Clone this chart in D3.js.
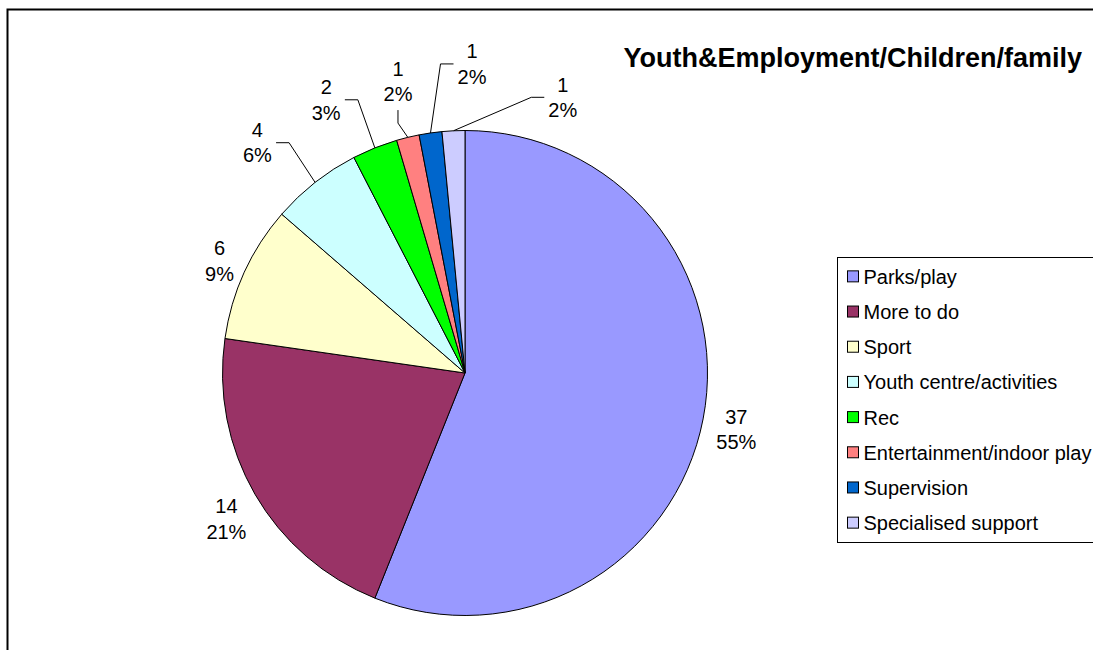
<!DOCTYPE html>
<html>
<head>
<meta charset="utf-8">
<script src="https://cdn.jsdelivr.net/npm/d3@7"></script>
<style>
  body { margin: 0; background: #fff; }
  svg { display: block; font-family: "Liberation Sans", Arial, sans-serif; }
</style>
</head>
<body>
<div id="chart"></div>
<script>
// data
const categories = ['Parks/play', 'More to do', 'Sport', 'Youth centre/activities',
  'Rec', 'Entertainment/indoor play', 'Supervision', 'Specialised support'];
const values = [37, 14, 6, 4, 2, 1, 1, 1];
const pctLabels = ['55%', '21%', '9%', '6%', '3%', '2%', '2%', '2%'];
const title = 'Youth&Employment/Children/family';

// styling / layout
const colors = ['#9999FF', '#993366', '#FFFFCC', '#CCFFFF', '#00FF00', '#FF8080', '#0066CC', '#CCCCFF'];
// label placement relative to the slice: angle shift (deg) and radius factor
const labelShift = [2.2, -2.6, -1.3, -4.7, -5.7, 0.4, 9.5, 22.7];
const labelRad = [1.149, 1.168, 1.102, 1.258, 1.239, 1.207, 1.247, 1.180];
const hasLeader = [false, false, false, true, true, true, true, true];

const W = 1093, H = 650;
const cx = 465, cy = 373, R = 242.5;

const svg = d3.select('#chart').append('svg')
  .attr('width', W)
  .attr('height', H);

// outer chart frame (runs off the right and bottom)
svg.append('rect')
  .attr('x', 7.5).attr('y', 9.5)
  .attr('width', W + 20).attr('height', H + 20)
  .style('fill', 'none')
  .style('stroke', '#000')
  .style('stroke-width', 2);

svg.append('text')
  .attr('x', 1082).attr('y', 67)
  .attr('text-anchor', 'end')
  .style('font-size', '27px')
  .style('font-weight', 'bold')
  .text(title);

const pie = d3.pie().sort(null).value(d => d);
const arcs = pie(values);
const arcGen = d3.arc().innerRadius(0).outerRadius(R);

const g = svg.append('g').attr('transform', `translate(${cx},${cy})`);

g.selectAll('path.slice')
  .data(arcs)
  .enter()
  .append('path')
  .attr('class', 'slice')
  .attr('d', arcGen)
  .style('fill', (d, i) => colors[i])
  .style('stroke', '#000')
  .style('stroke-width', 1)
  .style('stroke-linejoin', 'round');

// polar helper, angle clockwise from 12 o'clock
function polar(a, r) { return [r * Math.sin(a), -r * Math.cos(a)]; }

arcs.forEach(function(d, i) {
  const mid = (d.startAngle + d.endAngle) / 2;
  const p = polar(mid + labelShift[i] * Math.PI / 180, R * labelRad[i]);

  const t = g.append('text')
    .attr('text-anchor', 'middle')
    .style('font-size', '20px')
    .style('fill', '#000');
  t.append('tspan').attr('x', p[0]).attr('y', p[1] - 12.5).text(values[i]);
  t.append('tspan').attr('x', p[0]).attr('y', p[1] + 13).text(pctLabels[i]);

  if (!hasLeader[i]) return;
  const bb = t.node().getBBox();
  const edge = polar(mid, R);
  const midY = bb.y + bb.height / 2;
  let pts;
  if (edge[0] < bb.x) {
    pts = [edge, [bb.x - 17, midY], [bb.x - 4, midY]];
  } else if (edge[0] > bb.x + bb.width) {
    pts = [edge, [bb.x + bb.width + 17, midY], [bb.x + bb.width + 4, midY]];
  } else {
    pts = [edge, [p[0], bb.y + bb.height + 18], [p[0], bb.y + bb.height + 5]];
  }
  g.append('path')
    .attr('d', d3.line()(pts))
    .style('fill', 'none')
    .style('stroke', '#000')
    .style('stroke-width', 1);
});

// legend
const lg = svg.append('g').attr('transform', 'translate(837.5,257.5)');
lg.append('rect')
  .attr('width', 300).attr('height', 285)
  .style('fill', '#fff')
  .style('stroke', '#000')
  .style('stroke-width', 1);

const rowY = d3.scaleBand().domain(categories).range([0, 285]).paddingOuter(0.05);

const item = lg.selectAll('g.item')
  .data(categories)
  .enter()
  .append('g')
  .attr('class', 'item')
  .attr('transform', d => `translate(0,${rowY(d) + rowY.bandwidth() / 2})`);

item.append('rect')
  .attr('x', 10).attr('y', -6)
  .attr('width', 11).attr('height', 11)
  .style('fill', (d, i) => colors[i])
  .style('stroke', '#000')
  .style('stroke-width', 1);

item.append('text')
  .attr('x', 26).attr('y', 7)
  .style('font-size', '20px')
  .text(d => d);
</script>
</body>
</html>
